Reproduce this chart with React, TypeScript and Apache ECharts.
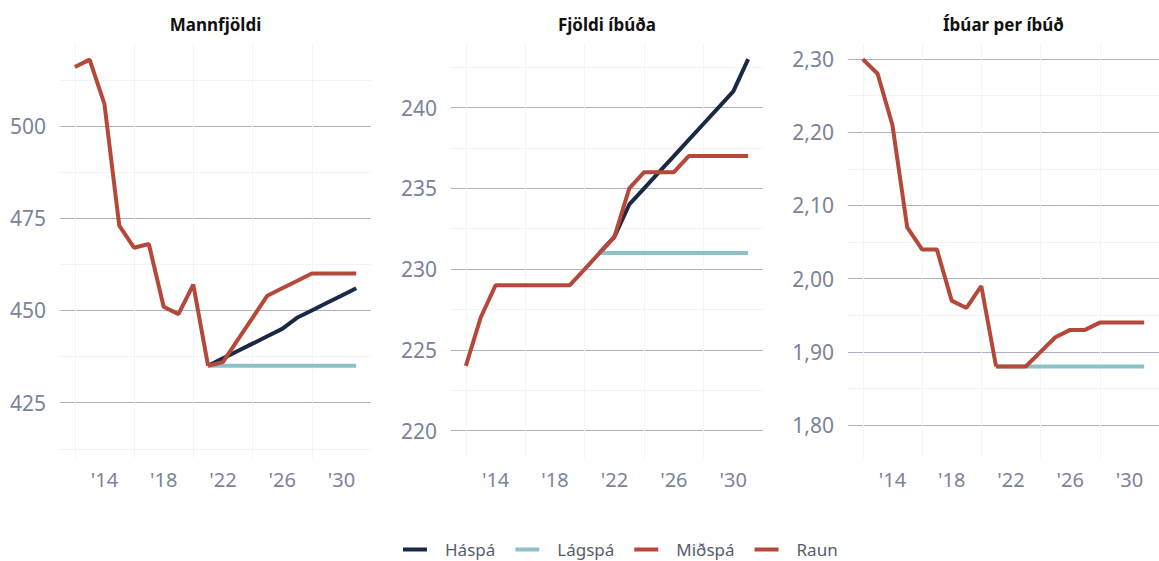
import React, { useEffect, useRef } from "react";
import * as echarts from "echarts";

// Years on the x axis
const years = [2012, 2013, 2014, 2015, 2016, 2017, 2018, 2019, 2020, 2021, 2022, 2023, 2024, 2025, 2026, 2027, 2028, 2029, 2030, 2031];
const actualYears = [2012, 2013, 2014, 2015, 2016, 2017, 2018, 2019, 2020, 2021];
const forecastYears = [2021, 2022, 2023, 2024, 2025, 2026, 2027, 2028, 2029, 2030, 2031];

const xLabelYears = [2014, 2018, 2022, 2026, 2030];
const xGridYears = [2012, 2016, 2020, 2024, 2028];

const panelTitles = ["Mannfjöldi", "Fjöldi íbúða", "Íbúar per íbúð"];
const seriesNames = ["Háspá", "Lágspá", "Miðspá", "Raun"];

// Panel 1: Mannfjöldi
const popRaun = [516, 518, 506, 473, 467, 468, 451, 449, 457, 435];
const popHa = [435, 437, 439, 441, 443, 445, 448, 450, 452, 454, 456];
const popLag = [435, 435, 435, 435, 435, 435, 435, 435, 435, 435, 435];
const popMid = [435, 436, 442, 448, 454, 456, 458, 460, 460, 460, 460];
const popTicks = [412.5, 425, 437.5, 450, 462.5, 475, 487.5, 500, 512.5];
const popLabels = [425, 450, 475, 500];

// Panel 2: Fjöldi íbúða
const dwRaun = [224, 227, 229, 229, 229, 229, 229, 229, 230, 231];
const dwHa = [231, 232, 234, 235, 236, 237, 238, 239, 240, 241, 243];
const dwLag = [231, 231, 231, 231, 231, 231, 231, 231, 231, 231, 231];
const dwMid = [231, 232, 235, 236, 236, 236, 237, 237, 237, 237, 237];
const dwTicks = [220, 222.5, 225, 227.5, 230, 232.5, 235, 237.5, 240, 242.5];
const dwLabels = [220, 225, 230, 235, 240];

// Panel 3: Íbúar per íbúð (high forecast hidden under the others in the reference)
const perRaun = [2.30, 2.28, 2.21, 2.07, 2.04, 2.04, 1.97, 1.96, 1.99, 1.88];
const perHa: number[] = [];
const perLag = [1.88, 1.88, 1.88, 1.88, 1.88, 1.88, 1.88, 1.88, 1.88, 1.88, 1.88];
const perMid = [1.88, 1.88, 1.88, 1.90, 1.92, 1.93, 1.93, 1.94, 1.94, 1.94, 1.94];
const perTicks = [1.8, 1.85, 1.9, 1.95, 2.0, 2.05, 2.1, 2.15, 2.2, 2.25, 2.3];
const perLabels = [1.8, 1.9, 2.0, 2.1, 2.2, 2.3];

const COLORS = {
  ha: "#1b2a44",
  lag: "#8cc2c6",
  mid: "#b5483a",
  raun: "#b5483a",
};
const MAJOR = "#aab0bd";
const MINOR = "#f3f3f5";
const LABEL = "#7a8399";
const FONT = "'Noto Sans', sans-serif";

const panels = [
  { raun: popRaun, ha: popHa, lag: popLag, mid: popMid, ticks: popTicks, labels: popLabels, min: 410, max: 522.5, left: 60, width: 311, fmt: (v: number) => String(v) },
  { raun: dwRaun, ha: dwHa, lag: dwLag, mid: dwMid, ticks: dwTicks, labels: dwLabels, min: 218.3, max: 244, left: 451, width: 312, fmt: (v: number) => String(v) },
  { raun: perRaun, ha: perHa, lag: perLag, mid: perMid, ticks: perTicks, labels: perLabels, min: 1.755, max: 2.322, left: 848, width: 311, fmt: (v: number) => v.toFixed(2).replace(".", ",") },
];

function pair(xs: number[], ys: number[]) {
  return ys.map((y, i) => [xs[i], y]);
}

export default function App() {
  const ref = useRef<HTMLDivElement>(null);
  useEffect(() => {
    if (!ref.current) return;
    const chart = echarts.init(ref.current, null, { renderer: "svg" });
    const grid: any[] = [];
    const xAxis: any[] = [];
    const yAxis: any[] = [];
    const series: any[] = [];
    const graphic: any[] = [];
    panels.forEach((p, i) => {
      grid.push({ left: p.left, width: p.width, top: 43, height: 415 });
      xAxis.push({
        type: "value",
        gridIndex: i,
        min: years[0] - 1,
        max: years[years.length - 1] + 1,
        axisLine: { show: false },
        axisTick: { show: false, customValues: xGridYears },
        axisLabel: {
          customValues: xLabelYears,
          formatter: (v: number) => "'" + String(v).slice(2),
          color: LABEL,
          fontSize: 20,
          fontFamily: FONT,
          margin: 11,
        },
        splitLine: { show: true, lineStyle: { color: "#f4f4f6", width: 1 } },
      });
      const majorSet = new Set(p.labels.map((v) => v.toFixed(3)));
      yAxis.push({
        type: "value",
        gridIndex: i,
        min: p.min,
        max: p.max,
        axisLine: { show: false },
        axisTick: { show: false, customValues: p.ticks },
        axisLabel: {
          customValues: p.labels,
          formatter: p.fmt,
          color: LABEL,
          fontSize: 21,
          fontFamily: FONT,
          margin: 14,
        },
        splitLine: {
          show: true,
          lineStyle: {
            color: p.ticks.map((t) => (majorSet.has(t.toFixed(3)) ? MAJOR : MINOR)),
            width: 1,
          },
        },
      });
      const common = { type: "line", xAxisIndex: i, yAxisIndex: i, showSymbol: false, symbol: "none", silent: true };
      series.push({ ...common, name: seriesNames[0], color: COLORS.ha, lineStyle: { width: 4, color: COLORS.ha }, data: pair(forecastYears, p.ha), z: 2 });
      series.push({ ...common, name: seriesNames[1], color: COLORS.lag, lineStyle: { width: 4, color: COLORS.lag }, data: pair(forecastYears, p.lag), z: 3 });
      series.push({ ...common, name: seriesNames[2], color: COLORS.mid, lineStyle: { width: 4, color: COLORS.mid }, data: pair(forecastYears, p.mid), z: 4 });
      series.push({ ...common, name: seriesNames[3], color: COLORS.raun, lineStyle: { width: 4, color: COLORS.raun }, data: pair(actualYears, p.raun), z: 5 });
      graphic.push({
        type: "text",
        x: p.left + p.width / 2,
        y: 24,
        style: {
          text: panelTitles[i],
          fill: "#111111",
          font: "bold 17px 'Noto Sans', sans-serif",
          textAlign: "center",
          textVerticalAlign: "middle",
        },
      });
    });
    chart.setOption({
      animation: false,
      backgroundColor: "#ffffff",
      grid,
      xAxis,
      yAxis,
      series,
      graphic,
      legend: {
        data: seriesNames,
        left: 398,
        top: 536,
        icon: "rect",
        itemWidth: 24,
        itemHeight: 4,
        itemGap: 20,
        textStyle: { color: "#555d6a", fontSize: 17, fontFamily: FONT, padding: [0, 0, 0, 13] },
        selectedMode: false,
      },
    });
    return () => chart.dispose();
  }, []);
  return <div ref={ref} style={{ position: "absolute", left: 0, top: 0, width: 1159, height: 561 }} />;
}
